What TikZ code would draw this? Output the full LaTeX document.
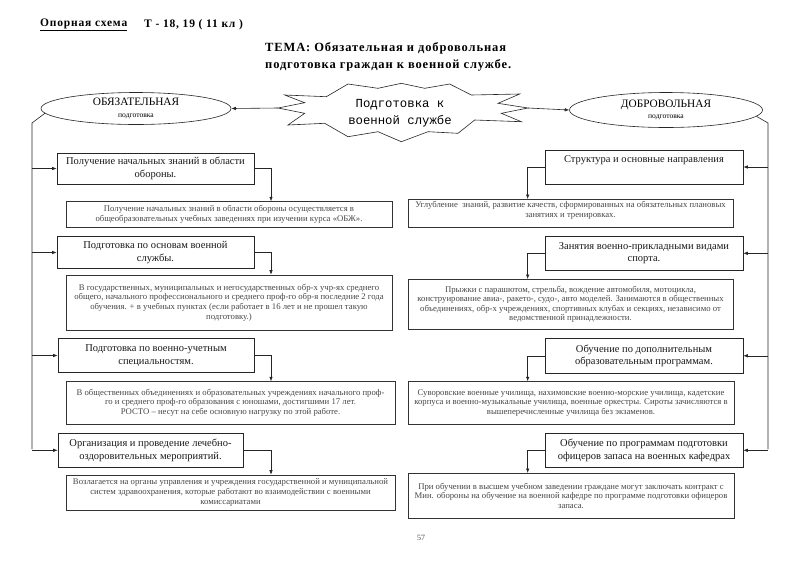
\documentclass[tikz,border=0pt]{standalone}
\usepackage{fontspec}
\setmainfont{Liberation Serif}
\newfontfamily\monofnt{Liberation Mono}
\newfontfamily\spacedfnt[LetterSpace=7]{Liberation Serif}
\usetikzlibrary{arrows.meta,shapes.geometric}
\begin{document}
\begin{tikzpicture}[x=1pt,y=-1pt,
  ln/.style={draw=black!85, line width=0.6pt},
  arr/.style={ln, -{Latex[length=4.5pt,width=3.5pt]}},
  ttl/.style={draw=black!85, line width=0.6pt, inner sep=0pt, align=center,
    font=\fontsize{10.5}{12.3}\selectfont, text=black!90},
  dscfont/.style={font=\fontsize{8.7}{9.6}\selectfont, text=black!72},
  dsc/.style={draw=black!80, line width=0.6pt, inner sep=0pt, align=center, dscfont},
  ell/.style={draw=black!85, line width=0.6pt, ellipse, inner sep=0pt, align=center},
  hdr/.style={anchor=west, inner sep=0pt, font=\spacedfnt\bfseries\fontsize{11.5}{13}\selectfont},
  tema/.style={anchor=west, inner sep=0pt, font=\spacedfnt\bfseries\fontsize{12.5}{14}\selectfont}]
\useasboundingbox[fill=white] (0,0) rectangle (800,566);

% header
\node[hdr] (h1) at (40,25) {\underline{Опорная схема}};
\node[hdr] (h2) at (144,25) {Т - 18, 19 ( 11 кл )};
\node[tema] (t1) at (265,48) {ТЕМА: Обязательная и добровольная};
\node[tema] (t2) at (265,65.5) {подготовка граждан к военной службе.};

% starburst
\coordinate (starL) at (278,108);
\coordinate (starR) at (528,108);
\draw[ln] (starL) -- (304.7,102.7) -- (284.7,95) -- (326.3,96.7) -- (348,84) -- (378,88.3)
  -- (401.3,83.3) -- (424.7,88.3) -- (449.7,84) -- (471.3,95) -- (519.7,94) -- (498,103.3)
  -- (starR) -- (501.3,113.3) -- (521.3,121.7) -- (474.7,120) -- (458,133.3) -- (428,131.7)
  -- (401.3,141.7) -- (378,131.7) -- (348,136.7) -- (324.7,123.3) -- (288,125)
  -- (304.7,113.3) -- cycle;
\node[align=center, inner sep=0pt, font=\monofnt\fontsize{12.3}{16.7}\selectfont] (star) at (400,113.5)
  {Подготовка к\\военной службе};

% ellipses
\node[ell, minimum width=190pt, minimum height=32pt] (obz) at (136,108.5)
  {{\fontsize{11.3}{12}\selectfont ОБЯЗАТЕЛЬНАЯ}\\[-0.5pt]{\fontsize{7.6}{9}\selectfont подготовка}};
\node[ell, minimum width=193pt, minimum height=35pt] (dob) at (666,110)
  {{\fontsize{11.3}{12}\selectfont ДОБРОВОЛЬНАЯ}\\[-0.5pt]{\fontsize{7.6}{9}\selectfont подготовка}};

\draw[arr] (starL) -- (obz.east);
\draw[arr] (starR) -- (dob.west);

% left column
\node[ttl, minimum width=197pt, minimum height=31pt] (L1) at (155.5,168.5)
  {Получение начальных знаний в области\\обороны.};
\node[dsc, minimum width=326pt, minimum height=25.5pt] (L1d) at (229,214.3)
  {Получение начальных знаний в области обороны осуществляется в\\общеобразовательных учебных заведениях при изучении курса «ОБЖ».};
\node[ttl, minimum width=197pt, minimum height=31.5pt] (L2) at (155.5,252.5)
  {Подготовка по основам военной\\службы.};
\node[dsc, minimum width=326pt, minimum height=55pt] (L2d) at (229,302.5)
  {В государственных, муниципальных и негосударственных обр-х учр-ях среднего\\общего, начального профессионального и среднего проф-го обр-я последние 2 года\\обучения. + в учебных пунктах (если работает в 16 лет и не прошел такую\\подготовку.)};
\node[ttl, minimum width=196pt, minimum height=34.5pt] (L3) at (156,355.5)
  {Подготовка по военно-учетным\\специальностям.};
\node[dsc, minimum width=329pt, minimum height=42.5pt] (L3d) at (230.5,402.8)
  {В общественных объединениях и образовательных учреждениях начального проф-\\го и среднего проф-го образования с юношами, достигшими 17 лет.\\РОСТО – несут на себе основную нагрузку по этой работе.};
\node[ttl, minimum width=185pt, minimum height=34pt] (L4) at (150.5,450.3)
  {Организация и проведение лечебно-\\оздоровительных мероприятий.};
\node[dsc, minimum width=329pt, minimum height=35pt] (L4d) at (230.5,492.5)
  {Возлагается на органы управления и учреждения государственной и муниципальной\\систем здравоохранения, которые работают во взаимодействии с военными\\комиссариатами};

% right column
\node[ttl, minimum width=198pt, minimum height=34pt] (R1) at (644,167)
  {Структура и основные направления\\\strut};
\node[dsc, minimum width=325pt, minimum height=28pt] (R1d) at (570.5,213.3) {};
\node[align=center, inner sep=0pt, dscfont] (R1dt) at (570.5,210.3)
  {Углубление \ знаний, развитие качеств, сформированных на обязательных плановых\\занятиях и тренировках.};
\node[ttl, minimum width=198pt, minimum height=33.5pt] (R2) at (644,253.3)
  {Занятия военно-прикладными видами\\спорта.};
\node[dsc, minimum width=325pt, minimum height=50pt] (R2d) at (570.5,304.3)
  {Прыжки с парашютом, стрельба, вождение автомобиля, мотоцикла,\\конструирование авиа-, ракето-, судо-, авто моделей. Занимаются в общественных\\объединениях, обр-х учреждениях, спортивных клубах и секциях, независимо от\\ведомственной принадлежности.};
\node[ttl, minimum width=198pt, minimum height=35pt] (R3) at (644,355.8)
  {Обучение по дополнительным\\образовательным программам.};
\node[dsc, minimum width=326pt, minimum height=42.5pt] (R3d) at (571,402.8)
  {Суворовские военные училища, нахимовские военно-морские училища, кадетские\\корпуса и военно-музыкальные училища, военные оркестры. Сироты зачисляются в\\вышеперечисленные училища без экзаменов.};
\node[ttl, minimum width=198pt, minimum height=34pt] (R4) at (644,450.3)
  {Обучение по программам подготовки\\офицеров запаса на военных кафедрах};
\node[dsc, minimum width=326pt, minimum height=45pt] (R4d) at (571,495.8)
  {При обучении в высшем учебном заведении граждане могут заключать контракт с\\Мин. обороны на обучение на военной кафедре по программе подготовки офицеров\\запаса.};

% trunk lines
\coordinate (lc) at (32,123);
\coordinate (lb) at (32,449);
\coordinate (rc) at (768,123);
\coordinate (rb) at (768,449);
\draw[ln] (obz.183) -- (lc) -- (lb);
\draw[ln] (dob.-4) -- (rc) -- (rb);
\foreach \b in {L1,L2,L3,L4} {\draw[arr] (lc |- \b.west) -- (\b.west);}
\foreach \b in {R1,R2,R3,R4} {\draw[arr] (rc |- \b.east) -- (\b.east);}

% title -> description
\coordinate (xl) at (271,0);
\coordinate (xr) at (527.7,0);
\foreach \b in {L1,L2,L3,L4} {\draw[arr] (\b.east) -| (\b d.north -| xl);}
\foreach \b in {R1,R2,R3,R4} {\draw[arr] (\b.west) -| (\b d.north -| xr);}

% page number
\node[inner sep=0pt, font=\fontsize{8}{9}\selectfont, text=black!70] (pg) at (421,538) {57};
\end{tikzpicture}
\end{document}
